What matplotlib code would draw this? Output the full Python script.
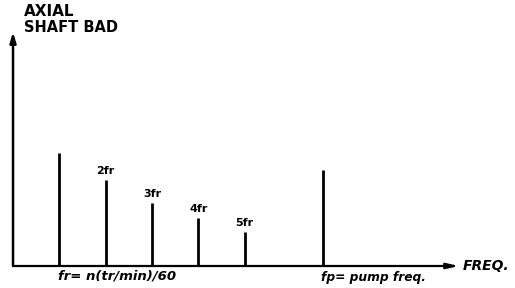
import matplotlib
matplotlib.use('Agg')
import matplotlib.pyplot as plt

# spectrum lines: frequency in multiples of the shaft rate, amplitude (arbitrary)
harm_freq = [1, 2, 3, 4, 5]
harm_amp = [113, 86, 63, 48, 34]
harm_labels = ['', '2fr', '3fr', '4fr', '5fr']
pump_freq = 6.7
pump_amp = 96

fig = plt.figure(figsize=(5.15, 2.88), dpi=100)
ax = fig.add_axes([0, 0, 1, 1])
ax.set_xlim(-0.281, 10.84)
ax.set_ylim(-22, 266)
ax.axis('off')

# axes with arrows
ax.annotate('', xy=(0, 234), xytext=(0, 0),
            arrowprops=dict(arrowstyle='-|>,head_length=0.6,head_width=0.18', lw=1.8, color='black',
                            shrinkA=0, shrinkB=0))
ax.annotate('', xy=(9.63, 0), xytext=(0, 0),
            arrowprops=dict(arrowstyle='-|>,head_length=0.7,head_width=0.16', lw=1.6, color='black',
                            shrinkA=0, shrinkB=0))

ax.vlines(harm_freq, 0, harm_amp, color='black', lw=2)
ax.vlines([pump_freq], 0, [pump_amp], color='black', lw=2)

for f, a, lab in zip(harm_freq, harm_amp, harm_labels):
    if lab:
        ax.text(f, a + 4, lab, ha='center', va='bottom', fontsize=8, fontweight='bold')

ax.text(0.24, 254, 'AXIAL', fontsize=11, fontweight='bold', va='center')
ax.text(0.24, 238, 'SHAFT BAD', fontsize=10.5, fontweight='bold', va='center')
ax.text(9.72, 0, 'FREQ.', fontsize=10, fontweight='bold', style='italic', va='center')

ax.text(0.97, -10, 'fr= n(tr/min)/60', fontsize=9.5, fontweight='bold', style='italic', va='center')
ax.text(pump_freq - 0.05, -12, 'fp= pump freq.', fontsize=8.8, fontweight='bold', style='italic', va='center')

fig.savefig('out.png', dpi=100)
